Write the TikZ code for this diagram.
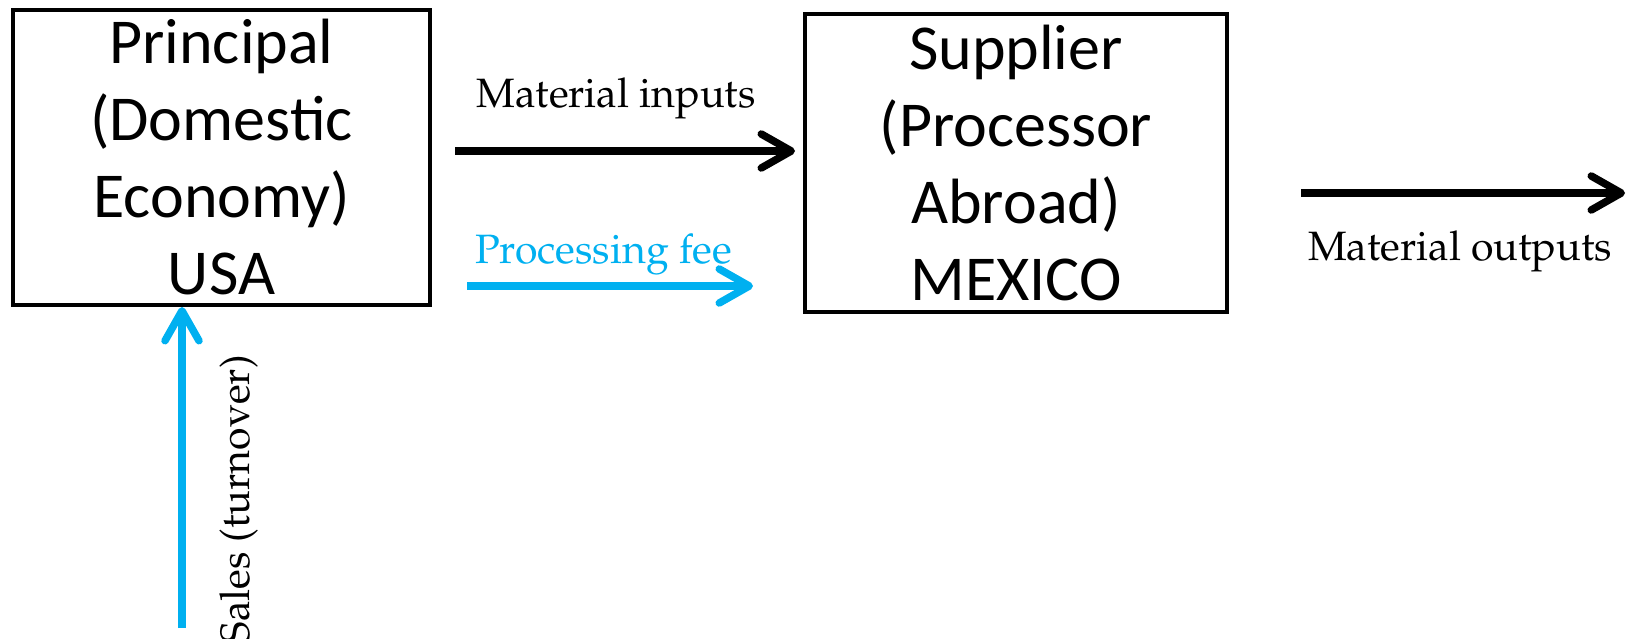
\documentclass[tikz,border=0pt]{standalone}
\usepackage[T1]{fontenc}
\usepackage{fontspec}
\setmainfont{Carlito}
\usetikzlibrary{arrows.meta}
\definecolor{flowblue}{RGB}{0,176,240}
\newcommand{\labelfont}{\fontencoding{T1}\fontfamily{ppl}\fontsize{41}{48}\selectfont}
\tikzset{
  party/.style={draw=black, line width=4pt, align=center, inner sep=0pt,
    font=\fontsize{64}{77}\selectfont},
  flow/.style={line width=7.5pt, -{Straight Barb[length=30pt, width=34pt, round]}},
  flowlabel/.style={inner sep=0pt, font=\labelfont},
}
\begin{document}
\begin{tikzpicture}[x=1pt, y=1pt]
  \useasboundingbox (0,0) rectangle (1631,-638);

  % the two parties
  \node[party, minimum width=417pt, minimum height=295pt] (principal) at (221.5,-157.5)
    {Principal\\(Domestic\\Economy)\\USA};
  \node[party, minimum width=422pt, minimum height=298pt] (supplier) at (1016,-163)
    {Supplier\\(Processor\\Abroad)\\MEXICO};

  % free ends of the flows
  \coordinate (inS) at (455,-151);
  \coordinate (inE) at (795,-151);
  \coordinate (feeS) at (467,-286);
  \coordinate (feeE) at (753,-286);
  \coordinate (outS) at (1301,-193);
  \coordinate (outE) at (1625,-193);
  \coordinate (salesS) at (182,-628);

  % flows
  \draw[flow] (inS) -- (inE);
  \draw[flow, flowblue] (feeS) -- (feeE);
  \draw[flow] (outS) -- (outE);
  \draw[flow, flowblue] (salesS) -- (principal.south -| salesS);

  % flow labels
  \node[flowlabel, anchor=base] (inL) at (616,-107) {Material inputs};
  \node[flowlabel, anchor=base, text=flowblue] (feeL) at (603.5,-263) {Processing fee};
  \node[flowlabel, anchor=base] (outL) at (1460,-260) {Material outputs};
  \node[flowlabel, anchor=base east, rotate=90] (salesL) at (249,-355) {Sales (turnover)};
\end{tikzpicture}
\end{document}
